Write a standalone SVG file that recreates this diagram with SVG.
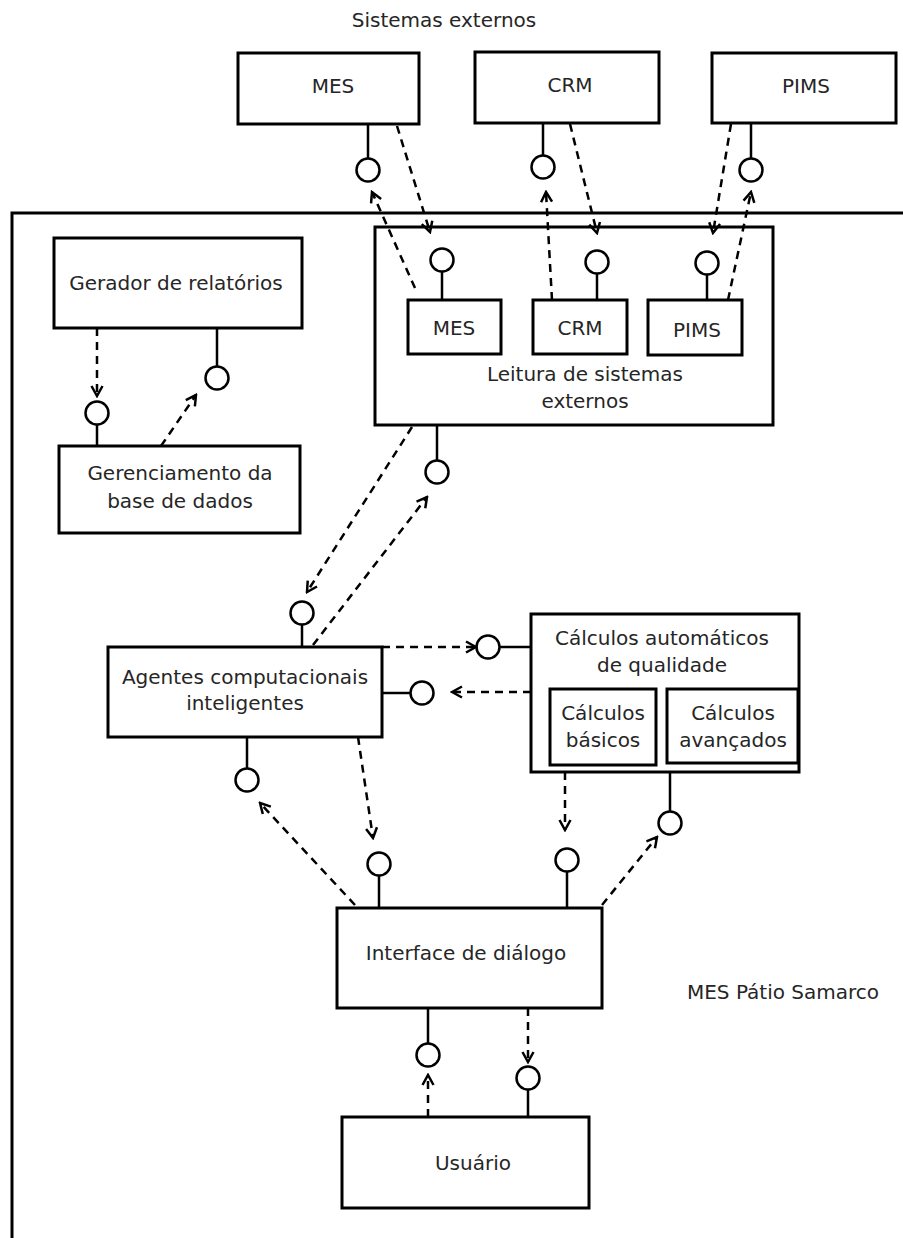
<svg xmlns="http://www.w3.org/2000/svg" width="903" height="1238" viewBox="0 0 903 1238">
<style>
.box{fill:#fff;stroke:#000;stroke-width:3}
.t{font-family:"DejaVu Sans","Liberation Sans",sans-serif;font-size:20px;fill:#262626;text-anchor:middle}
.stem{stroke:#000;stroke-width:2.5;fill:none}
.lol{fill:#fff;stroke:#000;stroke-width:2.5}
.dash{stroke:#000;stroke-width:2.5;fill:none;stroke-dasharray:8 6;marker-end:url(#arr)}
.frame{stroke:#000;stroke-width:3;fill:none}
</style>
<defs>
<marker id="arr" viewBox="-12 -8 14 16" refX="0" refY="0" markerWidth="14" markerHeight="16" markerUnits="userSpaceOnUse" orient="auto">
<path d="M-10,-5.5 L0,0 L-10,5.5" fill="none" stroke="#000" stroke-width="2.5"/>
</marker>
</defs>
<rect width="903" height="1238" fill="#fff"/>
<g id="frame">
<path class="frame" d="M12,1238 V213 H903"/>
<text class="t" x="444" y="27">Sistemas externos</text>
<text class="t" x="783" y="999">MES Pátio Samarco</text>
</g>
<g id="ext-mes"><rect class="box" x="238" y="53" width="181" height="71"/><text class="t" x="333" y="93">MES</text></g>
<g id="ext-crm"><rect class="box" x="475" y="52" width="184" height="71"/><text class="t" x="570" y="92">CRM</text></g>
<g id="ext-pims"><rect class="box" x="712" y="53" width="184" height="70"/><text class="t" x="806" y="93">PIMS</text></g>
<g id="leitura">
<rect class="box" x="375" y="227" width="398" height="198"/>
<text class="t" x="585" y="381">Leitura de sistemas</text>
<text class="t" x="585" y="408">externos</text>
</g>
<g id="leitura-mes"><rect class="box" x="408" y="300" width="93" height="54"/><text class="t" x="454" y="335">MES</text></g>
<g id="leitura-crm"><rect class="box" x="533" y="300" width="94" height="54"/><text class="t" x="580" y="335">CRM</text></g>
<g id="leitura-pims"><rect class="box" x="648" y="300" width="94" height="55"/><text class="t" x="697" y="337">PIMS</text></g>
<g id="gerador"><rect class="box" x="54" y="238" width="248" height="90"/><text class="t" x="176" y="290">Gerador de relatórios</text></g>
<g id="gerenciamento"><rect class="box" x="59" y="446" width="241" height="87"/><text class="t" x="180" y="480">Gerenciamento da</text><text class="t" x="180" y="508">base de dados</text></g>
<g id="agentes"><rect class="box" x="108" y="647" width="274" height="90"/><text class="t" x="245" y="684">Agentes computacionais</text><text class="t" x="245" y="710">inteligentes</text></g>
<g id="calculos">
<rect class="box" x="531" y="614" width="268" height="158"/>
<text class="t" x="662" y="645">Cálculos automáticos</text>
<text class="t" x="662" y="672">de qualidade</text>
</g>
<g id="calc-basicos"><rect class="box" x="550" y="689" width="106" height="76"/><text class="t" x="603" y="720">Cálculos</text><text class="t" x="603" y="747">básicos</text></g>
<g id="calc-avancados"><rect class="box" x="667" y="689" width="131" height="74"/><text class="t" x="733" y="720">Cálculos</text><text class="t" x="733" y="747">avançados</text></g>
<g id="interface"><rect class="box" x="337" y="908" width="265" height="100"/><text class="t" x="466" y="960">Interface de diálogo</text></g>
<g id="usuario"><rect class="box" x="342" y="1117" width="247" height="91"/><text class="t" x="473" y="1170">Usuário</text></g>
<g id="connectors">
<path class="stem" d="M368,124V158 M543,123V155 M751,123V158 M442,272V300 M597,274V300 M707,275V300 M217,328V366 M97,425V446 M437,425V460 M302,625V647 M500,647H531 M382,693H410 M247,737V768 M670,772V811 M379,876V908 M567,872V908 M428,1008V1043 M528,1090V1117"/>
<circle class="lol" cx="368" cy="170" r="11.5"/>
<circle class="lol" cx="543" cy="167" r="11.5"/>
<circle class="lol" cx="751" cy="170" r="11.5"/>
<circle class="lol" cx="442" cy="260" r="11.5"/>
<circle class="lol" cx="597" cy="262" r="11.5"/>
<circle class="lol" cx="707" cy="263" r="11.5"/>
<circle class="lol" cx="217" cy="378" r="11.5"/>
<circle class="lol" cx="97" cy="413" r="11.5"/>
<circle class="lol" cx="437" cy="472" r="11.5"/>
<circle class="lol" cx="302" cy="613" r="11.5"/>
<circle class="lol" cx="488" cy="647" r="11.5"/>
<circle class="lol" cx="422" cy="693" r="11.5"/>
<circle class="lol" cx="247" cy="780" r="11.5"/>
<circle class="lol" cx="670" cy="823" r="11.5"/>
<circle class="lol" cx="379" cy="864" r="11.5"/>
<circle class="lol" cx="567" cy="860" r="11.5"/>
<circle class="lol" cx="428" cy="1055" r="11.5"/>
<circle class="lol" cx="528" cy="1078" r="11.5"/>
<path class="dash" d="M397,126L430,232"/>
<path class="dash" d="M415,288L372,192"/>
<path class="dash" d="M570,124L597,233"/>
<path class="dash" d="M552,300L546,192"/>
<path class="dash" d="M731,124L713,233"/>
<path class="dash" d="M728,300L751,192"/>
<path class="dash" d="M97,328L97,396"/>
<path class="dash" d="M161,446L196,395"/>
<path class="dash" d="M412,427L307,592"/>
<path class="dash" d="M313,645L427,497"/>
<path class="dash" d="M382,647L476,647"/>
<path class="dash" d="M531,692L452,692"/>
<path class="dash" d="M358,737L373,838"/>
<path class="dash" d="M355,905L260,803"/>
<path class="dash" d="M565,772L565,830"/>
<path class="dash" d="M602,905L657,837"/>
<path class="dash" d="M528,1008L528,1062"/>
<path class="dash" d="M428,1117L428,1075"/>
</g>
</svg>
